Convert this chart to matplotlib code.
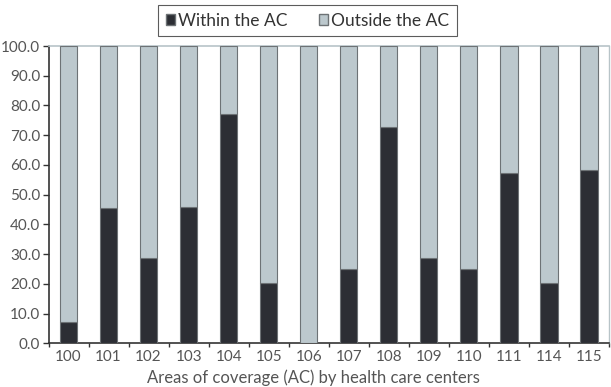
import matplotlib
matplotlib.use("Agg")
import matplotlib.pyplot as plt
from matplotlib.patches import Patch
import numpy as np

categories = ["100", "101", "102", "103", "104", "105", "106", "107", "108", "109", "110", "111", "114", "115"]
within = [7.0, 45.4, 28.6, 46.0, 77.1, 20.3, 0.0, 25.1, 72.6, 28.7, 25.1, 57.4, 20.3, 58.4]
outside = [100 - v for v in within]
yticks = [0, 10, 20, 30, 40, 50, 60, 70, 80, 90, 100]

plt.rcParams['font.family'] = ['Lato', 'DejaVu Sans']

W, H = 611, 387
fig = plt.figure(figsize=(W / 100, H / 100), dpi=100)
ax = fig.add_axes([48.5 / W, 1 - 343.3 / H, (609 - 48.5) / W, (343.3 - 46) / H])

dark = "#2c2e34"
light = "#bcc8cd"
edge = "#6d7275"
txt = "#555555"

x = np.arange(len(categories))
ax.bar(x, within, width=0.43, color=dark, edgecolor=edge, linewidth=0.8, zorder=3)
ax.bar(x, outside, bottom=within, width=0.43, color=light, edgecolor=edge, linewidth=0.8, zorder=3)

ax.set_xlim(-0.5, len(categories) - 0.5)
ax.set_ylim(0, 100)
ax.set_yticks(yticks)
ax.set_yticklabels([f"{v:.1f}" for v in yticks], color=txt, fontsize=11)
ax.set_xticks(x)
ax.set_xticklabels(categories, color=txt, fontsize=11)
ax.set_xticks(np.arange(len(categories) + 1) - 0.5, minor=True)
ax.tick_params(axis='x', which='major', length=0, pad=5)
ax.tick_params(axis='x', which='minor', length=3, color="#333333", width=1, direction='out')
ax.tick_params(axis='y', length=4, color="#333333", width=1, direction='out', pad=2)

for s in ['left', 'bottom']:
    ax.spines[s].set_color("#333333")
    ax.spines[s].set_linewidth(1.2)
ax.spines['top'].set_color("#b8c4c8")
ax.spines['right'].set_color("#b8c4c8")
ax.spines['top'].set_linewidth(1.2)
ax.spines['right'].set_linewidth(1.0)

handles = [Patch(facecolor=dark, edgecolor=edge, label="Within the AC"),
           Patch(facecolor=light, edgecolor=edge, label="Outside the AC")]
leg = fig.legend(handles=handles, loc='center', bbox_to_anchor=(307.5 / W, 1 - 20.5 / H), ncol=2,
                 frameon=True, fancybox=False, edgecolor="#333333", fontsize=12.5,
                 handlelength=0.55, handleheight=0.55, handletextpad=0.15, columnspacing=1.8,
                 borderpad=0.45, labelcolor="#333333")
leg.get_frame().set_linewidth(0.8)

fig.text(313 / W, 1 - 378 / H, "Areas of coverage (AC) by health care centers", ha='center', va='center',
         fontsize=12, color=txt)

fig.savefig("out.png", dpi=100)
